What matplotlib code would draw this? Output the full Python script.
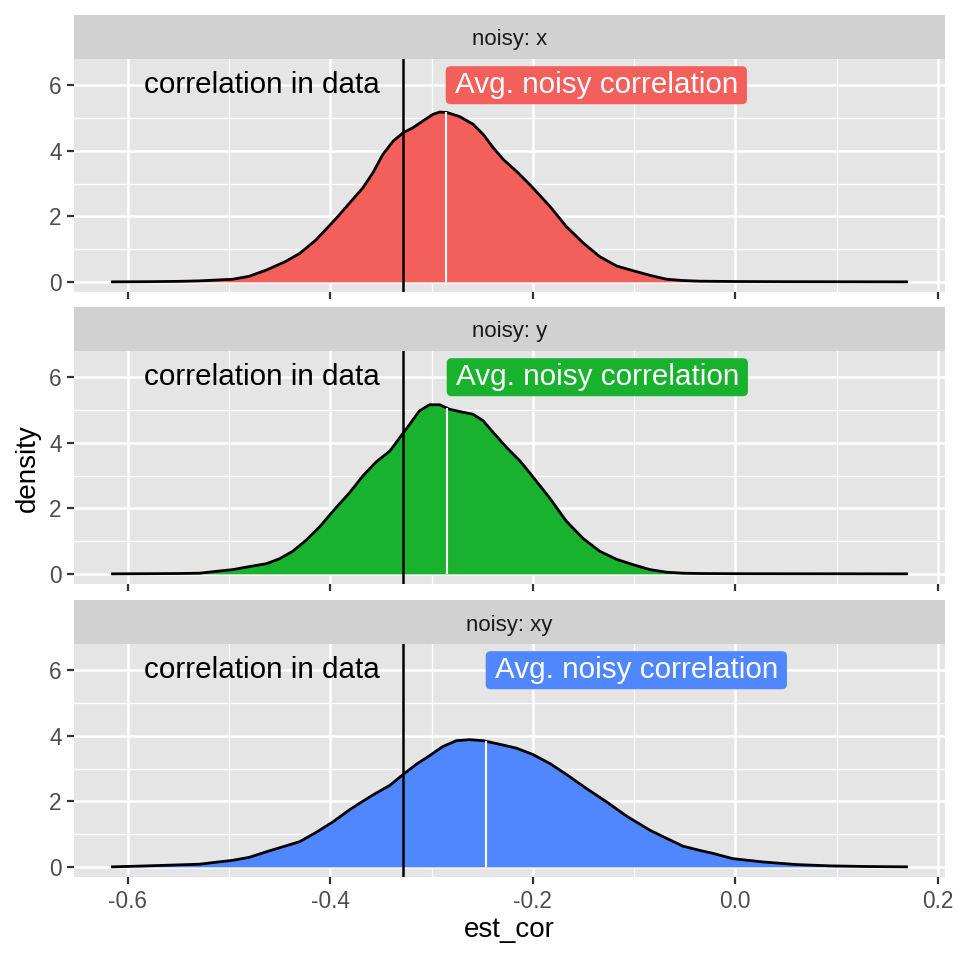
import numpy as np
import matplotlib
matplotlib.use('Agg')
import matplotlib.pyplot as plt
import matplotlib.transforms as mtransforms
from matplotlib.patches import FancyBboxPatch

plt.rcParams['font.family'] = ['Liberation Sans', 'DejaVu Sans']

# ---------------- data ----------------
facets = ['noisy: x', 'noisy: y', 'noisy: xy']
fills = ['#F35F5B', '#19B22E', '#5087FF']
cor_in_data = -0.3285
avg_noisy = [-0.286, -0.285, -0.2465]

x_x = [-0.615, -0.58, -0.55, -0.529, -0.496, -0.480, -0.463, -0.4435, -0.430, -0.414,
       -0.394, -0.381, -0.368, -0.358, -0.348, -0.338, -0.328, -0.318, -0.3085, -0.2986,
       -0.292, -0.285, -0.272, -0.259, -0.249, -0.239, -0.229, -0.216, -0.203, -0.183,
       -0.167, -0.150, -0.134, -0.117, -0.101, -0.0845, -0.068, -0.0516, -0.035, 0.0,
       0.05, 0.10, 0.169]
dens_x = [0.0, 0.005, 0.015, 0.03, 0.08, 0.17, 0.36, 0.63, 0.87, 1.28,
          1.94, 2.40, 2.86, 3.32, 3.89, 4.29, 4.55, 4.71, 4.91, 5.11,
          5.18, 5.17, 5.04, 4.81, 4.50, 4.09, 3.73, 3.37, 2.97, 2.30,
          1.69, 1.18, 0.77, 0.48, 0.34, 0.20, 0.08, 0.04, 0.02, 0.01,
          0.005, 0.003, 0.0]

x_y = [-0.615, -0.58, -0.55, -0.529, -0.496, -0.480, -0.463, -0.450, -0.437, -0.424,
       -0.4106, -0.396, -0.381, -0.368, -0.3545, -0.341, -0.3315, -0.3216, -0.312, -0.302,
       -0.292, -0.282, -0.272, -0.259, -0.249, -0.239, -0.2257, -0.2125, -0.203, -0.183,
       -0.167, -0.150, -0.134, -0.117, -0.101, -0.0845, -0.068, -0.0516, -0.035, 0.0,
       0.05, 0.10, 0.169]
dens_y = [0.0, 0.005, 0.01, 0.02, 0.13, 0.22, 0.31, 0.46, 0.69, 1.02,
          1.43, 1.96, 2.47, 2.98, 3.42, 3.75, 4.15, 4.56, 4.97, 5.16,
          5.16, 5.02, 4.95, 4.87, 4.67, 4.31, 3.85, 3.44, 3.08, 2.30,
          1.61, 1.07, 0.69, 0.44, 0.28, 0.13, 0.05, 0.02, 0.01, 0.005,
          0.003, 0.002, 0.0]

x_xy = [-0.615, -0.58, -0.55, -0.529, -0.513, -0.496, -0.480, -0.463, -0.447, -0.430,
        -0.414, -0.397, -0.381, -0.371, -0.358, -0.341, -0.328, -0.315, -0.302, -0.289,
        -0.2755, -0.2624, -0.249, -0.2327, -0.216, -0.200, -0.183, -0.1668, -0.147, -0.127,
        -0.1075, -0.0845, -0.068, -0.0516, -0.035, -0.022, -0.0025, 0.027, 0.060, 0.093,
        0.13, 0.169]
dens_xy = [0.0, 0.03, 0.06, 0.08, 0.14, 0.20, 0.29, 0.46, 0.61, 0.77,
           1.05, 1.38, 1.74, 1.94, 2.19, 2.49, 2.82, 3.13, 3.39, 3.67,
           3.85, 3.88, 3.85, 3.74, 3.62, 3.43, 3.15, 2.82, 2.39, 1.98,
           1.55, 1.12, 0.87, 0.63, 0.50, 0.41, 0.25, 0.15, 0.07, 0.03,
           0.01, 0.0]

xs = [x_x, x_y, x_xy]
ds = [dens_x, dens_y, dens_xy]

x_major = [-0.6, -0.4, -0.2, 0.0, 0.2]
x_labels = ['-0.6', '-0.4', '-0.2', '0.0', '0.2']
x_minor = [-0.5, -0.3, -0.1, 0.1]
y_major = [0, 2, 4, 6]
y_minor = [1, 3, 5]
label_y = 6

# ---------------- layout ----------------
W = H = 960
fig = plt.figure(figsize=(9.6, 9.6), dpi=100)
L, R = 74, 945
panels = [(15, 59, 292), (307, 351, 584), (600, 644, 877)]
PANEL_BG = '#E5E5E5'
STRIP_BG = '#D1D1D1'
TXT = '#4D4D4D'
ANN = 21.3

axes = []
for i, (st, top, bot) in enumerate(panels):
    sax = fig.add_axes([L / W, 1 - top / H, (R - L) / W, (top - st) / H])
    sax.set_facecolor(STRIP_BG)
    sax.set_xticks([]); sax.set_yticks([])
    for s in sax.spines.values():
        s.set_visible(False)
    sax.text(0.5, 13.5 / 44, facets[i], ha='center', va='baseline', fontsize=16,
             color='#1A1A1A', transform=sax.transAxes)

    ax = fig.add_axes([L / W, 1 - bot / H, (R - L) / W, (bot - top) / H])
    ax.set_facecolor(PANEL_BG)
    for s in ax.spines.values():
        s.set_visible(False)
    ax.set_xlim(-0.653, 0.207)
    ax.set_ylim(-0.31, 6.8)
    ax.set_xticks(x_major)
    ax.set_xticks(x_minor, minor=True)
    ax.set_yticks(y_major)
    ax.set_yticks(y_minor, minor=True)
    ax.grid(which='major', color='white', linewidth=1.8)
    ax.grid(which='minor', color='white', linewidth=0.9)
    ax.set_axisbelow(True)
    ax.tick_params(which='major', length=5, width=1.6, color='#333333',
                   labelsize=16.3, labelcolor=TXT)
    ax.tick_params(axis='y', pad=4)
    ax.tick_params(axis='x', pad=4)
    ax.tick_params(which='minor', length=0)
    ax.set_yticklabels([str(v) for v in y_major])
    if i < 2:
        ax.set_xticklabels([])
    else:
        ax.set_xticklabels(x_labels)

    x = np.array(xs[i]); d = np.array(ds[i])
    ax.fill_between(x, 0, d, color=fills[i], linewidth=0, zorder=2)
    ax.plot(x, d, color='black', linewidth=2.0, zorder=3, solid_joinstyle='round')
    ax.axvline(cor_in_data, color='black', linewidth=1.8, zorder=4)
    ax.vlines(avg_noisy[i], 0, np.interp(avg_noisy[i], x, d), color='white',
              linewidth=1.5, zorder=4)
    ax.text(cor_in_data - 0.0225, label_y, 'correlation in data', ha='right',
            va='center', fontsize=ANN, color='black', zorder=5)
    off = mtransforms.ScaledTranslation(9 / 100, 0, fig.dpi_scale_trans)
    t = ax.text(avg_noisy[i], label_y, 'Avg. noisy correlation', ha='left',
                va='center', fontsize=ANN, color='white', zorder=7,
                transform=ax.transData + off)
    axes.append((ax, t, i))

fig.text(509.5 / W, 1 - 930 / H, 'est_cor', ha='center', va='center', fontsize=20)
fig.text(28 / W, 1 - 468 / H, 'density', ha='center', va='center', fontsize=20,
         rotation=90)

fig.canvas.draw()
renderer = fig.canvas.get_renderer()
for ax, t, i in axes:
    bb = t.get_window_extent(renderer)
    p0 = ax.transData.transform((avg_noisy[i], label_y))
    h = 38
    box = FancyBboxPatch((p0[0], p0[1] - h / 2), bb.x1 + 9 - p0[0], h,
                         boxstyle='round,pad=0,rounding_size=5',
                         facecolor=fills[i], edgecolor='none',
                         transform=mtransforms.IdentityTransform(),
                         zorder=6, clip_on=False)
    ax.add_artist(box)

fig.savefig('out.png', dpi=100)
